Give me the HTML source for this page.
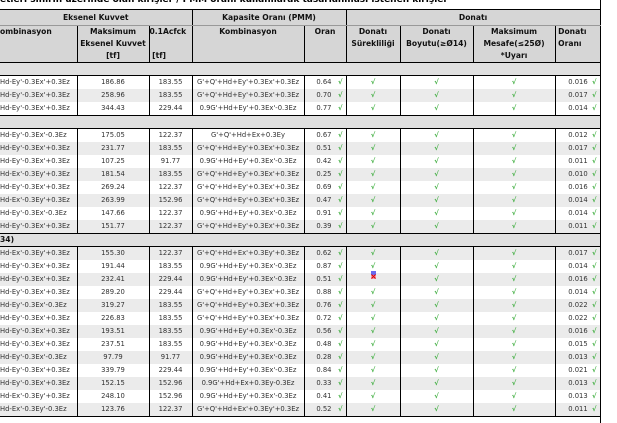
<!DOCTYPE html>
<html><head><meta charset="utf-8"><style>
body{margin:0;width:617px;height:423px;overflow:hidden;background:#fff;position:relative;font-family:"DejaVu Sans","Liberation Sans",sans-serif;}
.title{position:absolute;left:0;top:-5px;font-weight:bold;font-size:9px;color:#000;white-space:nowrap}
.frame{position:absolute;left:600px;top:0;width:1px;height:423px;background:#000}
table{position:absolute;left:0;top:9px;border-collapse:collapse;table-layout:fixed;width:600px}
td{padding:0;height:13px;font-size:6.8px;color:#333;text-align:center;white-space:nowrap;overflow:hidden;border-left:1px solid #000;border-right:1px solid #000;line-height:13px}
td:first-child{border-left:none;text-align:left}
tr.h1 td{background:#d6d6d6;font-weight:bold;font-size:7.6px;color:#111;height:15px;line-height:15px;border-top:1px solid #000;border-bottom:1px solid #999}
tr.h2 td{background:#d6d6d6;font-weight:bold;font-size:7.6px;color:#111;height:36px;vertical-align:top;line-height:12px;border-bottom:1px solid #000}
tr.g td{background:#e0e0e0;height:12px;line-height:12px;border-top:1px solid #000;border-bottom:1px solid #000;font-weight:bold;font-size:7.6px;color:#111;text-align:left}
tr.a td{background:#ebebeb}
tr.last td{border-bottom:1px solid #000}
.c{color:#3fae3f;font-weight:bold}
td.o{text-align:right;padding-right:3px}
.m{position:absolute;left:371px;top:271px;width:5px;height:8px}
</style></head><body>
<div class="title">etleri sınırın üzerinde olan kirişler / PMM oranı kullanılarak tasarlanması istenen kirişler</div>
<div class="frame"></div>
<table>
<colgroup><col style="width:77px"><col style="width:72px"><col style="width:43px"><col style="width:112px"><col style="width:42px"><col style="width:54px"><col style="width:73px"><col style="width:82px"><col style="width:45px"></colgroup>
<tr class="h1"><td colspan="3" style="text-align:center">Eksenel Kuvvet</td><td colspan="2">Kapasite Oranı (PMM)</td><td colspan="4">Donatı</td></tr>
<tr class="h2"><td>ombinasyon</td><td>Maksimum<br>Eksenel Kuvvet<br>[tf]</td><td style="text-align:left">0.1Acfck<br><br>&nbsp;[tf]</td><td>Kombinasyon</td><td>Oran</td><td>Donatı<br>Sürekliliği</td><td>Donatı<br>Boyutu(≥Ø14)</td><td>Maksimum<br>Mesafe(≤25Ø)<br>*Uyarı</td><td style="text-align:left">&nbsp;Donatı<br>&nbsp;Oranı</td></tr>
<tr class="g"><td colspan="9">&nbsp;</td></tr>
<tr><td>Hd-Ey'-0.3Ex'+0.3Ez</td><td>186.86</td><td>183.55</td><td>G'+Q'+Hd+Ey'+0.3Ex'+0.3Ez</td><td class="o">0.64 &nbsp;&nbsp;<span class="c">√</span></td><td class="c">√</td><td class="c">√</td><td class="c">√</td><td class="o">0.016 &nbsp;<span class="c">√</span></td></tr>
<tr class="a"><td>Hd-Ey'-0.3Ex'+0.3Ez</td><td>258.96</td><td>183.55</td><td>G'+Q'+Hd+Ey'+0.3Ex'+0.3Ez</td><td class="o">0.70 &nbsp;&nbsp;<span class="c">√</span></td><td class="c">√</td><td class="c">√</td><td class="c">√</td><td class="o">0.017 &nbsp;<span class="c">√</span></td></tr>
<tr><td>Hd-Ey'-0.3Ex'+0.3Ez</td><td>344.43</td><td>229.44</td><td>0.9G'+Hd+Ey'+0.3Ex'-0.3Ez</td><td class="o">0.77 &nbsp;&nbsp;<span class="c">√</span></td><td class="c">√</td><td class="c">√</td><td class="c">√</td><td class="o">0.014 &nbsp;<span class="c">√</span></td></tr>
<tr class="g"><td colspan="9">&nbsp;</td></tr>
<tr><td>Hd-Ey'-0.3Ex'-0.3Ez</td><td>175.05</td><td>122.37</td><td>G'+Q'+Hd+Ex+0.3Ey</td><td class="o">0.67 &nbsp;&nbsp;<span class="c">√</span></td><td class="c">√</td><td class="c">√</td><td class="c">√</td><td class="o">0.012 &nbsp;<span class="c">√</span></td></tr>
<tr class="a"><td>Hd-Ey'-0.3Ex'+0.3Ez</td><td>231.77</td><td>183.55</td><td>G'+Q'+Hd+Ey'+0.3Ex'+0.3Ez</td><td class="o">0.51 &nbsp;&nbsp;<span class="c">√</span></td><td class="c">√</td><td class="c">√</td><td class="c">√</td><td class="o">0.017 &nbsp;<span class="c">√</span></td></tr>
<tr><td>Hd-Ey'-0.3Ex'+0.3Ez</td><td>107.25</td><td>91.77</td><td>0.9G'+Hd+Ey'+0.3Ex'-0.3Ez</td><td class="o">0.42 &nbsp;&nbsp;<span class="c">√</span></td><td class="c">√</td><td class="c">√</td><td class="c">√</td><td class="o">0.011 &nbsp;<span class="c">√</span></td></tr>
<tr class="a"><td>Hd-Ex'-0.3Ey'+0.3Ez</td><td>181.54</td><td>183.55</td><td>G'+Q'+Hd+Ey'+0.3Ex'+0.3Ez</td><td class="o">0.25 &nbsp;&nbsp;<span class="c">√</span></td><td class="c">√</td><td class="c">√</td><td class="c">√</td><td class="o">0.010 &nbsp;<span class="c">√</span></td></tr>
<tr><td>Hd-Ey'-0.3Ex'+0.3Ez</td><td>269.24</td><td>122.37</td><td>G'+Q'+Hd+Ey'+0.3Ex'+0.3Ez</td><td class="o">0.69 &nbsp;&nbsp;<span class="c">√</span></td><td class="c">√</td><td class="c">√</td><td class="c">√</td><td class="o">0.016 &nbsp;<span class="c">√</span></td></tr>
<tr class="a"><td>Hd-Ex'-0.3Ey'+0.3Ez</td><td>263.99</td><td>152.96</td><td>G'+Q'+Hd+Ey'+0.3Ex'+0.3Ez</td><td class="o">0.47 &nbsp;&nbsp;<span class="c">√</span></td><td class="c">√</td><td class="c">√</td><td class="c">√</td><td class="o">0.014 &nbsp;<span class="c">√</span></td></tr>
<tr><td>Hd-Ey'-0.3Ex'-0.3Ez</td><td>147.66</td><td>122.37</td><td>0.9G'+Hd+Ey'+0.3Ex'-0.3Ez</td><td class="o">0.91 &nbsp;&nbsp;<span class="c">√</span></td><td class="c">√</td><td class="c">√</td><td class="c">√</td><td class="o">0.014 &nbsp;<span class="c">√</span></td></tr>
<tr class="a"><td>Hd-Ey'-0.3Ex'+0.3Ez</td><td>151.77</td><td>122.37</td><td>G'+Q'+Hd+Ey'+0.3Ex'+0.3Ez</td><td class="o">0.39 &nbsp;&nbsp;<span class="c">√</span></td><td class="c">√</td><td class="c">√</td><td class="c">√</td><td class="o">0.011 &nbsp;<span class="c">√</span></td></tr>
<tr class="g"><td colspan="9">34)</td></tr>
<tr class="a"><td>Hd-Ex'-0.3Ey'+0.3Ez</td><td>155.30</td><td>122.37</td><td>G'+Q'+Hd+Ex'+0.3Ey'+0.3Ez</td><td class="o">0.62 &nbsp;&nbsp;<span class="c">√</span></td><td class="c">√</td><td class="c">√</td><td class="c">√</td><td class="o">0.017 &nbsp;<span class="c">√</span></td></tr>
<tr><td>Hd-Ey'-0.3Ex'+0.3Ez</td><td>191.44</td><td>183.55</td><td>0.9G'+Hd+Ey'+0.3Ex'-0.3Ez</td><td class="o">0.87 &nbsp;&nbsp;<span class="c">√</span></td><td class="c">√</td><td class="c">√</td><td class="c">√</td><td class="o">0.014 &nbsp;<span class="c">√</span></td></tr>
<tr class="a"><td>Hd-Ey'-0.3Ex'+0.3Ez</td><td>232.41</td><td>229.44</td><td>0.9G'+Hd+Ey'+0.3Ex'-0.3Ez</td><td class="o">0.51 &nbsp;&nbsp;<span class="c">√</span></td><td></td><td class="c">√</td><td class="c">√</td><td class="o">0.016 &nbsp;<span class="c">√</span></td></tr>
<tr><td>Hd-Ey'-0.3Ex'+0.3Ez</td><td>289.20</td><td>229.44</td><td>G'+Q'+Hd+Ey'+0.3Ex'+0.3Ez</td><td class="o">0.88 &nbsp;&nbsp;<span class="c">√</span></td><td class="c">√</td><td class="c">√</td><td class="c">√</td><td class="o">0.014 &nbsp;<span class="c">√</span></td></tr>
<tr class="a"><td>Hd-Ey'-0.3Ex'-0.3Ez</td><td>319.27</td><td>183.55</td><td>G'+Q'+Hd+Ey'+0.3Ex'+0.3Ez</td><td class="o">0.76 &nbsp;&nbsp;<span class="c">√</span></td><td class="c">√</td><td class="c">√</td><td class="c">√</td><td class="o">0.022 &nbsp;<span class="c">√</span></td></tr>
<tr><td>Hd-Ey'-0.3Ex'+0.3Ez</td><td>226.83</td><td>183.55</td><td>G'+Q'+Hd+Ey'+0.3Ex'+0.3Ez</td><td class="o">0.72 &nbsp;&nbsp;<span class="c">√</span></td><td class="c">√</td><td class="c">√</td><td class="c">√</td><td class="o">0.022 &nbsp;<span class="c">√</span></td></tr>
<tr class="a"><td>Hd-Ey'-0.3Ex'+0.3Ez</td><td>193.51</td><td>183.55</td><td>0.9G'+Hd+Ey'+0.3Ex'-0.3Ez</td><td class="o">0.56 &nbsp;&nbsp;<span class="c">√</span></td><td class="c">√</td><td class="c">√</td><td class="c">√</td><td class="o">0.016 &nbsp;<span class="c">√</span></td></tr>
<tr><td>Hd-Ey'-0.3Ex'+0.3Ez</td><td>237.51</td><td>183.55</td><td>0.9G'+Hd+Ey'+0.3Ex'-0.3Ez</td><td class="o">0.48 &nbsp;&nbsp;<span class="c">√</span></td><td class="c">√</td><td class="c">√</td><td class="c">√</td><td class="o">0.015 &nbsp;<span class="c">√</span></td></tr>
<tr class="a"><td>Hd-Ey'-0.3Ex'-0.3Ez</td><td>97.79</td><td>91.77</td><td>0.9G'+Hd+Ey'+0.3Ex'-0.3Ez</td><td class="o">0.28 &nbsp;&nbsp;<span class="c">√</span></td><td class="c">√</td><td class="c">√</td><td class="c">√</td><td class="o">0.013 &nbsp;<span class="c">√</span></td></tr>
<tr><td>Hd-Ey'-0.3Ex'+0.3Ez</td><td>339.79</td><td>229.44</td><td>0.9G'+Hd+Ey'+0.3Ex'-0.3Ez</td><td class="o">0.84 &nbsp;&nbsp;<span class="c">√</span></td><td class="c">√</td><td class="c">√</td><td class="c">√</td><td class="o">0.021 &nbsp;<span class="c">√</span></td></tr>
<tr class="a"><td>Hd-Ey'-0.3Ex'+0.3Ez</td><td>152.15</td><td>152.96</td><td>0.9G'+Hd+Ex+0.3Ey-0.3Ez</td><td class="o">0.33 &nbsp;&nbsp;<span class="c">√</span></td><td class="c">√</td><td class="c">√</td><td class="c">√</td><td class="o">0.013 &nbsp;<span class="c">√</span></td></tr>
<tr><td>Hd-Ex'-0.3Ey'+0.3Ez</td><td>248.10</td><td>152.96</td><td>0.9G'+Hd+Ey'+0.3Ex'-0.3Ez</td><td class="o">0.41 &nbsp;&nbsp;<span class="c">√</span></td><td class="c">√</td><td class="c">√</td><td class="c">√</td><td class="o">0.013 &nbsp;<span class="c">√</span></td></tr>
<tr class="a last"><td>Hd-Ex'-0.3Ey'-0.3Ez</td><td>123.76</td><td>122.37</td><td>G'+Q'+Hd+Ex'+0.3Ey'+0.3Ez</td><td class="o">0.52 &nbsp;&nbsp;<span class="c">√</span></td><td class="c">√</td><td class="c">√</td><td class="c">√</td><td class="o">0.011 &nbsp;<span class="c">√</span></td></tr>
</table>
<svg class="m" viewBox="0 0 5 8"><rect x="0" y="0" width="5" height="4" fill="#6a6af0"/><rect x="0" y="4" width="5" height="4" fill="#f0a0b0"/><path d="M0.5 3.5L4.5 7.5M4.5 3.5L0.5 7.5" stroke="#d00" stroke-width="1"/></svg>
</body></html>
